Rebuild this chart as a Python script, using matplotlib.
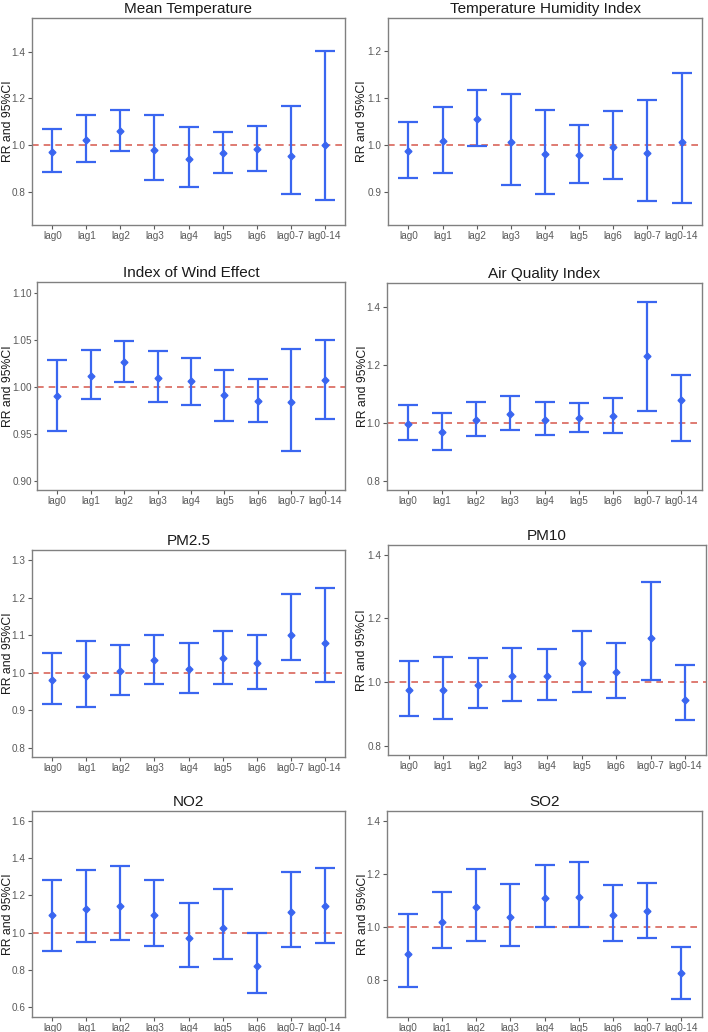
import matplotlib
matplotlib.use("Agg")
import matplotlib.pyplot as plt

plt.rcParams['font.family'] = ['Liberation Sans', 'DejaVu Sans']

lags = ['lag0', 'lag1', 'lag2', 'lag3', 'lag4', 'lag5', 'lag6', 'lag0-7', 'lag0-14']

# Mean Temperature
temp_rr = [0.973, 1.024, 1.060, 0.980, 0.942, 0.966, 0.984, 0.953, 1.003]
temp_lo = [0.886, 0.929, 0.977, 0.852, 0.823, 0.883, 0.893, 0.792, 0.768]
temp_hi = [1.071, 1.131, 1.151, 1.131, 1.078, 1.057, 1.084, 1.168, 1.403]

# Temperature Humidity Index
thi_rr = [0.988, 1.008, 1.055, 1.007, 0.981, 0.979, 0.997, 0.983, 1.006]
thi_lo = [0.931, 0.940, 0.998, 0.916, 0.895, 0.919, 0.927, 0.882, 0.877]
thi_hi = [1.049, 1.082, 1.117, 1.109, 1.076, 1.043, 1.073, 1.097, 1.154]

# Index of Wind Effect
wind_rr = [0.990, 1.012, 1.027, 1.010, 1.006, 0.991, 0.985, 0.984, 1.007]
wind_lo = [0.953, 0.987, 1.005, 0.984, 0.981, 0.964, 0.963, 0.932, 0.966]
wind_hi = [1.029, 1.039, 1.049, 1.038, 1.031, 1.018, 1.008, 1.040, 1.050]

# Air Quality Index
aqi_rr = [0.998, 0.969, 1.012, 1.032, 1.012, 1.017, 1.024, 1.231, 1.080]
aqi_lo = [0.940, 0.908, 0.954, 0.976, 0.957, 0.969, 0.964, 1.041, 0.937]
aqi_hi = [1.062, 1.033, 1.074, 1.093, 1.071, 1.069, 1.087, 1.417, 1.167]

# PM2.5
pm25_rr = [0.981, 0.991, 1.005, 1.034, 1.010, 1.040, 1.026, 1.101, 1.079]
pm25_lo = [0.917, 0.908, 0.941, 0.970, 0.946, 0.971, 0.958, 1.034, 0.976]
pm25_hi = [1.052, 1.084, 1.074, 1.102, 1.080, 1.112, 1.101, 1.209, 1.225]

# PM10
pm10_rr = [0.976, 0.976, 0.992, 1.019, 1.019, 1.061, 1.031, 1.139, 0.945]
pm10_lo = [0.892, 0.884, 0.917, 0.940, 0.943, 0.969, 0.950, 1.006, 0.882]
pm10_hi = [1.067, 1.078, 1.075, 1.107, 1.104, 1.161, 1.123, 1.315, 1.053]

# NO2
no2_rr = [1.093, 1.125, 1.143, 1.093, 0.973, 1.027, 0.824, 1.109, 1.141]
no2_lo = [0.902, 0.948, 0.961, 0.929, 0.818, 0.857, 0.679, 0.923, 0.943]
no2_hi = [1.285, 1.335, 1.358, 1.285, 1.162, 1.235, 0.998, 1.326, 1.348]

# SO2
so2_rr = [0.899, 1.021, 1.075, 1.039, 1.109, 1.115, 1.048, 1.060, 0.829]
so2_lo = [0.774, 0.923, 0.948, 0.931, 1.000, 1.000, 0.950, 0.958, 0.729]
so2_hi = [1.051, 1.131, 1.219, 1.163, 1.234, 1.244, 1.158, 1.168, 0.925]

W, H = 708, 1032
fig = plt.figure(figsize=(W / 100, H / 100), dpi=100)

blue = '#3a66f0'
red = '#d9655a'
grey = '#5a5a5a'

# (title, rr, lo, hi, box in px [left, top, right, bottom], ylim, yticks, fmt, label right edge px)
panels = [
    ('Mean Temperature', temp_rr, temp_lo, temp_hi, (32, 18, 345, 225),
     (0.661, 1.543), [0.8, 1.0, 1.2, 1.4], '%.1f', 13.6),
    ('Temperature Humidity Index', thi_rr, thi_lo, thi_hi, (388, 18, 702, 225),
     (0.83, 1.271), [0.9, 1.0, 1.1, 1.2], '%.1f', 368.5),
    ('Index of Wind Effect', wind_rr, wind_lo, wind_hi, (37, 282, 345, 490),
     (0.89, 1.112), [0.90, 0.95, 1.00, 1.05, 1.10], '%.2f', 13.6),
    ('Air Quality Index', aqi_rr, aqi_lo, aqi_hi, (387, 283, 702, 490),
     (0.769, 1.483), [0.8, 1.0, 1.2, 1.4], '%.1f', 368.5),
    ('PM2.5', pm25_rr, pm25_lo, pm25_hi, (32, 550, 345, 757),
     (0.776, 1.327), [0.8, 0.9, 1.0, 1.1, 1.2, 1.3], '%.1f', 13.6),
    ('PM10', pm10_rr, pm10_lo, pm10_hi, (388, 545, 706, 755),
     (0.771, 1.430), [0.8, 1.0, 1.2, 1.4], '%.1f', 368.5),
    ('NO2', no2_rr, no2_lo, no2_hi, (32, 811, 345, 1017),
     (0.548, 1.653), [0.6, 0.8, 1.0, 1.2, 1.4, 1.6], '%.1f', 13.6),
    ('SO2', so2_rr, so2_lo, so2_hi, (387, 811, 702, 1017),
     (0.6625, 1.4375), [0.8, 1.0, 1.2, 1.4], '%.1f', 368.5),
]

x = list(range(len(lags)))

for title, rr, lo, hi, box, ylim, yticks, fmt, lab_x in panels:
    l, t, r, b = box
    ax = fig.add_axes([l / W, 1 - b / H, (r - l) / W, (b - t) / H])
    ax.axhline(1.0, color=red, linestyle=(0, (4, 3)), linewidth=1.2, zorder=1)
    yerr = [[v - lv for v, lv in zip(rr, lo)], [hv - v for v, hv in zip(rr, hi)]]
    ax.errorbar(x, rr, yerr=yerr, fmt='D', color=blue, ecolor=blue,
                markersize=3.5, elinewidth=1.6, capsize=7, capthick=1.6, zorder=3)
    ax.set_xlim(-0.6, len(lags) - 0.4)
    ax.set_ylim(*ylim)
    ax.set_xticks(x)
    ax.set_xticklabels(lags)
    ax.set_yticks(yticks)
    ax.set_yticklabels([fmt % v for v in yticks])
    ax.tick_params(colors=grey, labelsize=7.2, length=3, width=0.8, pad=1.5)
    if fmt == '%.2f':
        # longer labels, keep them clear of the axis title
        ax.tick_params(axis='y', length=2.5, pad=1.0)
    for sp in ax.spines.values():
        sp.set_color('#808080')
        sp.set_linewidth(1.0)
    ax.set_title(title, fontsize=11, color='#1a1a1a', pad=3.5)
    ax.set_ylabel('RR and 95%CI', fontsize=8.8, color='#1a1a1a')
    ax.yaxis.set_label_coords((lab_x - l) / (r - l), 0.5)

fig.savefig('out.png', dpi=100)
